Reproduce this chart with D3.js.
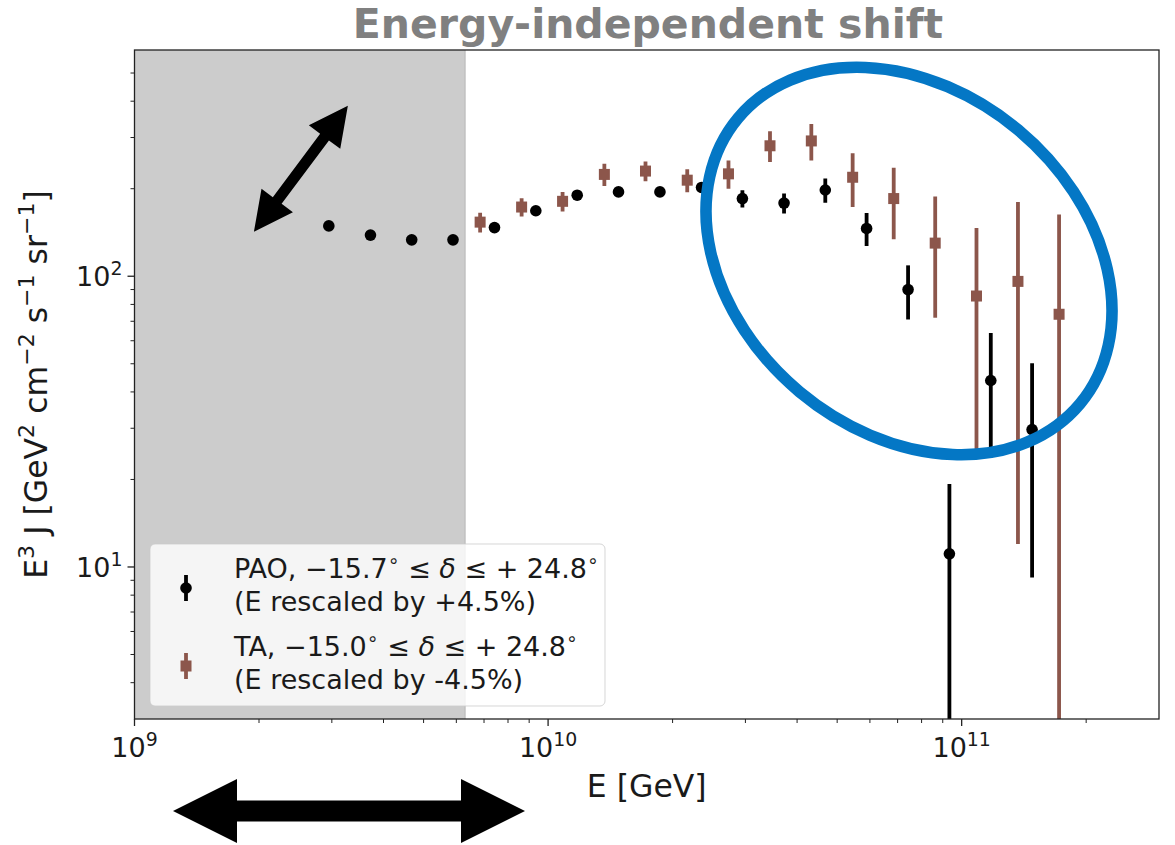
<!DOCTYPE html>
<html>
<head>
<meta charset="utf-8">
<script src="https://cdn.jsdelivr.net/npm/d3@7"></script>
<style>
  body { margin: 0; background: #fff; }
  svg { display: block; font-family: "DejaVu Sans", sans-serif; }
</style>
</head>
<body>
<svg id="chart" width="1175" height="845"></svg>
<script>
// PAO (black), energies already rescaled by +4.5%
const paoE = [2.95e9, 3.72e9, 4.68e9, 5.89e9, 7.42e9, 9.34e9, 1.176e10, 1.48e10, 1.864e10,
    2.35e10, 2.95e10, 3.72e10, 4.68e10, 5.89e10, 7.42e10, 9.34e10, 1.176e11, 1.48e11]
const paoJ = [149, 138.5, 133.4, 133.4, 147, 168, 190, 195, 195,
    202, 185, 178.5, 198, 146, 90, 11.1, 43.8, 29.7]
const paoErr = [2, 2, 2, 2, 2.5, 3, 3, 3.5, 4,
    6, 12.5, 14, 19, 19, 19, 8.2, 20, 20.5]

// TA (brown), energies rescaled by -4.5%
const taE = [6.85e9, 8.63e9, 1.084e10, 1.368e10, 1.72e10, 2.17e10, 2.73e10, 3.44e10, 4.33e10,
    5.45e10, 6.85e10, 8.63e10, 1.086e11, 1.368e11, 1.72e11]
const taJ = [153.5, 173, 181, 224, 230, 214, 225, 281, 292,
    219, 185, 130, 85.5, 96, 74]
const taErr = [12, 12.5, 14, 19.5, 18, 19.5, 25, 34, 42,
    46, 51, 58, 61, 84, 89]

const shadedRange = [1e9, 6.3e9]
const xMajorExps = [9, 10, 11]
const yMajorExps = [1, 2]
const legendLines = [
    { label: 'PAO', from: '−15.7', to: '24.8', note: '(E rescaled by +4.5%)' },
    { label: 'TA', from: '−15.0', to: '24.8', note: '(E rescaled by -4.5%)' }
]

const paoColor = '#000000'
const taColor = '#8c564b'
const textColor = '#1a1a1a'

const svg = d3.select('#chart')
const plot = { left: 134.5, right: 1159, top: 50, bottom: 719 }

const x = d3.scaleLog().domain([1e9, 3e11]).range([plot.left, plot.right])
const y = d3.scaleLog().domain([3, 600]).range([plot.bottom, plot.top])

// rich text helper: parts are [string, kind] with kind = 'sup' | 'it' | null
function richText(sel, parts, size) {
    let raised = false
    parts.forEach(([str, kind]) => {
        const t = sel.append('tspan').text(str)
        if (kind === 'sup') {
            t.attr('font-size', size * 0.7).attr('dy', raised ? 0 : -size * 0.42)
            raised = true
        } else {
            t.attr('dy', raised ? size * 0.42 : 0)
            raised = false
            if (kind === 'it') t.attr('font-style', 'italic')
        }
    })
}

svg.append('defs').append('clipPath').attr('id', 'plotClip')
    .append('rect')
    .attr('x', plot.left).attr('y', plot.top)
    .attr('width', plot.right - plot.left).attr('height', plot.bottom - plot.top)

// shaded band
svg.append('rect')
    .attr('x', x(shadedRange[0])).attr('y', plot.top)
    .attr('width', x(shadedRange[1]) - x(shadedRange[0]))
    .attr('height', plot.bottom - plot.top)
    .attr('fill', '#cccccc')
svg.append('line')
    .attr('x1', x(shadedRange[1])).attr('x2', x(shadedRange[1]))
    .attr('y1', plot.top).attr('y2', plot.bottom)
    .attr('stroke', '#b8b8b8').attr('stroke-width', 1)

const dataLayer = svg.append('g').attr('clip-path', 'url(#plotClip)')

function drawSeries(E, J, err, color, shape) {
    const g = dataLayer.append('g')
    const rows = E.map((e, i) => ({ e, j: J[i], err: err[i] }))
    g.selectAll('line').data(rows).enter().append('line')
        .attr('x1', d => x(d.e)).attr('x2', d => x(d.e))
        .attr('y1', d => y(Math.max(d.j - d.err, 1)))
        .attr('y2', d => y(d.j + d.err))
        .attr('stroke', color).attr('stroke-width', 3.8)
    if (shape === 'circle') {
        g.selectAll('circle').data(rows).enter().append('circle')
            .attr('cx', d => x(d.e)).attr('cy', d => y(d.j))
            .attr('r', 5.8).attr('fill', color)
    } else {
        g.selectAll('rect').data(rows).enter().append('rect')
            .attr('x', d => x(d.e) - 5.5).attr('y', d => y(d.j) - 5.5)
            .attr('width', 11).attr('height', 11).attr('fill', color)
    }
}

drawSeries(paoE, paoJ, paoErr, paoColor, 'circle')
drawSeries(taE, taJ, taErr, taColor, 'square')

// frame
svg.append('rect')
    .attr('x', plot.left).attr('y', plot.top)
    .attr('width', plot.right - plot.left).attr('height', plot.bottom - plot.top)
    .attr('fill', 'none').attr('stroke', '#222').attr('stroke-width', 1.3)

// ticks
function minorTicks(domain) {
    const out = []
    for (let p = Math.floor(Math.log10(domain[0])); p <= Math.ceil(Math.log10(domain[1])); p++) {
        for (let m = 2; m <= 9; m++) {
            const v = m * Math.pow(10, p)
            if (v > domain[0] && v < domain[1]) out.push(v)
        }
    }
    return out
}

const ticks = svg.append('g').attr('stroke', '#222')
ticks.selectAll('.xmin').data(minorTicks(x.domain())).enter().append('line')
    .attr('x1', d => x(d)).attr('x2', d => x(d))
    .attr('y1', plot.bottom).attr('y2', plot.bottom + 4).attr('stroke-width', 1)
ticks.selectAll('.xmaj').data(xMajorExps).enter().append('line')
    .attr('x1', d => x(Math.pow(10, d))).attr('x2', d => x(Math.pow(10, d)))
    .attr('y1', plot.bottom).attr('y2', plot.bottom + 7).attr('stroke-width', 1.3)
ticks.selectAll('.ymin').data(minorTicks(y.domain())).enter().append('line')
    .attr('y1', d => y(d)).attr('y2', d => y(d))
    .attr('x1', plot.left).attr('x2', plot.left - 4).attr('stroke-width', 1)
ticks.selectAll('.ymaj').data(yMajorExps).enter().append('line')
    .attr('y1', d => y(Math.pow(10, d))).attr('y2', d => y(Math.pow(10, d)))
    .attr('x1', plot.left).attr('x2', plot.left - 7).attr('stroke-width', 1.3)

const tickSize = 27
xMajorExps.forEach(p => {
    const t = svg.append('text')
        .attr('x', x(Math.pow(10, p))).attr('y', plot.bottom + 38)
        .attr('text-anchor', 'middle').attr('font-size', tickSize).attr('fill', textColor)
    richText(t, [['10', null], [String(p), 'sup']], tickSize)
})
yMajorExps.forEach(p => {
    const t = svg.append('text')
        .attr('x', plot.left - 12).attr('y', y(Math.pow(10, p)) + 10)
        .attr('text-anchor', 'end').attr('font-size', tickSize).attr('fill', textColor)
    richText(t, [['10', null], [String(p), 'sup']], tickSize)
})

// axis labels
const labelSize = 31.5
svg.append('text')
    .attr('x', (plot.left + plot.right) / 2).attr('y', 797)
    .attr('text-anchor', 'middle').attr('font-size', labelSize).attr('fill', textColor)
    .text('E [GeV]')
const yl = svg.append('text')
    .attr('transform', `translate(47,${(plot.top + plot.bottom) / 2}) rotate(-90)`)
    .attr('text-anchor', 'middle').attr('font-size', labelSize).attr('fill', textColor)
richText(yl, [['E', null], ['3', 'sup'], [' J [GeV', null], ['2', 'sup'], [' cm', null], ['−2', 'sup'],
    [' s', null], ['−1', 'sup'], [' sr', null], ['−1', 'sup'], [']', null]], labelSize)

// title
svg.append('text')
    .attr('x', 648).attr('y', 38)
    .attr('text-anchor', 'middle').attr('font-size', 41).attr('font-weight', 'bold')
    .attr('fill', '#808080')
    .text('Energy-independent shift')

// legend
const legend = svg.append('g')
legend.append('rect')
    .attr('x', 150).attr('y', 544).attr('width', 455).attr('height', 162).attr('rx', 5)
    .attr('fill', '#fff').attr('fill-opacity', 0.8)
    .attr('stroke', '#cccccc').attr('stroke-opacity', 0.8)
const legendSize = 27
legendLines.forEach((row, i) => {
    const top = 578 + i * 78
    const t1 = legend.append('text').attr('x', 234).attr('y', top)
        .attr('font-size', legendSize).attr('fill', textColor)
    richText(t1, [[`${row.label}, ${row.from}`, null], ['∘', 'sup'], [' ≤ ', null], ['δ', 'it'],
        [' ≤ + ' + row.to, null], ['∘', 'sup']], legendSize)
    legend.append('text').attr('x', 234).attr('y', top + 33)
        .attr('font-size', legendSize).attr('fill', textColor)
        .text(row.note)
    const color = i === 0 ? paoColor : taColor
    const my = top + 10
    legend.append('line')
        .attr('x1', 186).attr('x2', 186).attr('y1', my - 13).attr('y2', my + 13)
        .attr('stroke', color).attr('stroke-width', 3.8)
    if (i === 0) {
        legend.append('circle').attr('cx', 186).attr('cy', my).attr('r', 5.8).attr('fill', color)
    } else {
        legend.append('rect').attr('x', 180.5).attr('y', my - 5.5)
            .attr('width', 11).attr('height', 11).attr('fill', color)
    }
})

// annotations: ellipse and double arrows
svg.append('ellipse')
    .attr('cx', 909).attr('cy', 261).attr('rx', 222.8).attr('ry', 170.6)
    .attr('transform', 'rotate(39.85,909,261)')
    .attr('fill', 'none').attr('stroke', '#0477c5').attr('stroke-width', 11.6)

function doubleArrow(x1, y1, x2, y2, headLen, headHalf, shaftHalf) {
    const len = Math.hypot(x2 - x1, y2 - y1)
    const ux = (x2 - x1) / len, uy = (y2 - y1) / len
    const nx = -uy, ny = ux
    const p = (along, side) => [x1 + ux * along + nx * side, y1 + uy * along + ny * side]
    return [
        p(0, 0), p(headLen, headHalf), p(headLen, shaftHalf), p(len - headLen, shaftHalf),
        p(len - headLen, headHalf), p(len, 0), p(len - headLen, -headHalf), p(len - headLen, -shaftHalf),
        p(headLen, -shaftHalf), p(headLen, -headHalf)
    ]
}

svg.append('polygon')
    .attr('points', doubleArrow(x(1.944e9), y(142.2), x(3.28e9), y(385.6), 39, 19.6, 5.5).join(' '))
    .attr('fill', '#000')
svg.append('polygon')
    .attr('points', doubleArrow(173, 811, 525, 811, 64, 32, 10.5).join(' '))
    .attr('fill', '#000')
</script>
</body>
</html>
